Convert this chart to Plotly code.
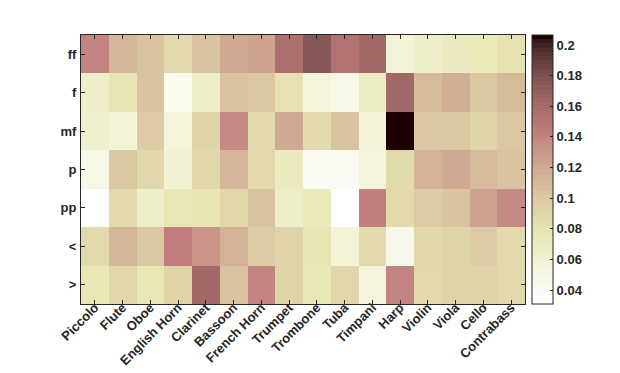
import numpy as np
import plotly.graph_objects as go

instruments = ["Piccolo", "Flute", "Oboe", "English Horn", "Clarinet", "Bassoon",
               "French Horn", "Trumpet", "Trombone", "Tuba", "Timpani", "Harp",
               "Violin", "Viola", "Cello", "Contrabass"]
dynamics = ["ff", "f", "mf", "p", "pp", "<", ">"]

row_ff = [0.140, 0.113, 0.103, 0.087, 0.105, 0.121, 0.123, 0.157, 0.175, 0.152, 0.162, 0.056, 0.066, 0.072, 0.074, 0.082]
row_f  = [0.065, 0.080, 0.103, 0.042, 0.066, 0.105, 0.100, 0.082, 0.053, 0.048, 0.068, 0.161, 0.108, 0.118, 0.100, 0.110]
row_mf = [0.062, 0.056, 0.097, 0.054, 0.093, 0.136, 0.087, 0.120, 0.086, 0.105, 0.056, 0.2065, 0.100, 0.100, 0.093, 0.100]
row_p  = [0.049, 0.100, 0.089, 0.059, 0.091, 0.112, 0.087, 0.070, 0.041, 0.040, 0.054, 0.087, 0.116, 0.119, 0.110, 0.103]
row_pp = [0.031, 0.087, 0.065, 0.076, 0.078, 0.089, 0.105, 0.064, 0.074, 0.031, 0.142, 0.086, 0.099, 0.105, 0.124, 0.137]
row_cresc = [0.087, 0.113, 0.100, 0.143, 0.131, 0.115, 0.099, 0.094, 0.079, 0.058, 0.087, 0.046, 0.089, 0.092, 0.099, 0.086]
row_dim = [0.077, 0.089, 0.075, 0.093, 0.161, 0.105, 0.138, 0.093, 0.077, 0.089, 0.055, 0.138, 0.087, 0.093, 0.092, 0.087]

z = [row_ff, row_f, row_mf, row_p, row_pp, row_cresc, row_dim]

# MATLAB "pink" colormap, flipped
m = 64
n = int(np.fix(3 / 8 * m))
r = np.concatenate([np.arange(1, n + 1) / n, np.ones(m - n)])
g = np.concatenate([np.zeros(n), np.arange(1, n + 1) / n, np.ones(m - 2 * n)])
b = np.concatenate([np.zeros(2 * n), np.arange(1, m - 2 * n + 1) / (m - 2 * n)])
hot = np.stack([r, g, b], axis=1)
gray = np.linspace(0, 1, m)[:, None]
pink = np.sqrt((2 * gray + hot) / 3)[::-1]
colorscale = []
for i, c in enumerate(pink):
    col = "rgb(%d,%d,%d)" % tuple(np.round(c * 255).astype(int))
    colorscale.append([i / m, col])
    colorscale.append([(i + 1) / m, col])

font = dict(family="Liberation Sans, Arial, sans-serif", size=13, color="#262626", weight="bold")

L, R, T, B = 73, 103, 27, 77
PW = 620 - L - R

fig = go.Figure(go.Heatmap(
    z=z, x=instruments, y=dynamics,
    colorscale=colorscale, zmin=0.031, zmax=0.2065,
    colorbar=dict(
        x=(524 - L) / PW, xanchor="left", xpad=0,
        y=0.5, yanchor="middle", len=1, lenmode="fraction", ypad=0,
        thickness=21, outlinecolor="#262626", outlinewidth=1,
        tick0=0.04, dtick=0.02, ticks="inside", ticklen=3, tickcolor="#262626",
        tickfont=font,
    ),
))

fig.update_layout(
    width=620, height=373,
    margin=dict(l=L, r=R, t=T, b=B, autoexpand=False),
    paper_bgcolor="white", plot_bgcolor="white",
    font=font,
)
fig.update_xaxes(
    tickangle=-45, ticks="inside", ticklen=4, tickcolor="#262626",
    showline=True, linecolor="#262626", linewidth=1, mirror="ticks",
    tickfont=font, showgrid=False, zeroline=False,
    ticklabeloverflow="allow", ticklabelstandoff=-10,
)
fig.update_yaxes(
    autorange="reversed", ticks="inside", ticklen=4, tickcolor="#262626",
    showline=True, linecolor="#262626", linewidth=1, mirror="ticks",
    tickfont=font, showgrid=False, zeroline=False,
    ticklabelstandoff=1,
)

fig.write_html("out.html")
